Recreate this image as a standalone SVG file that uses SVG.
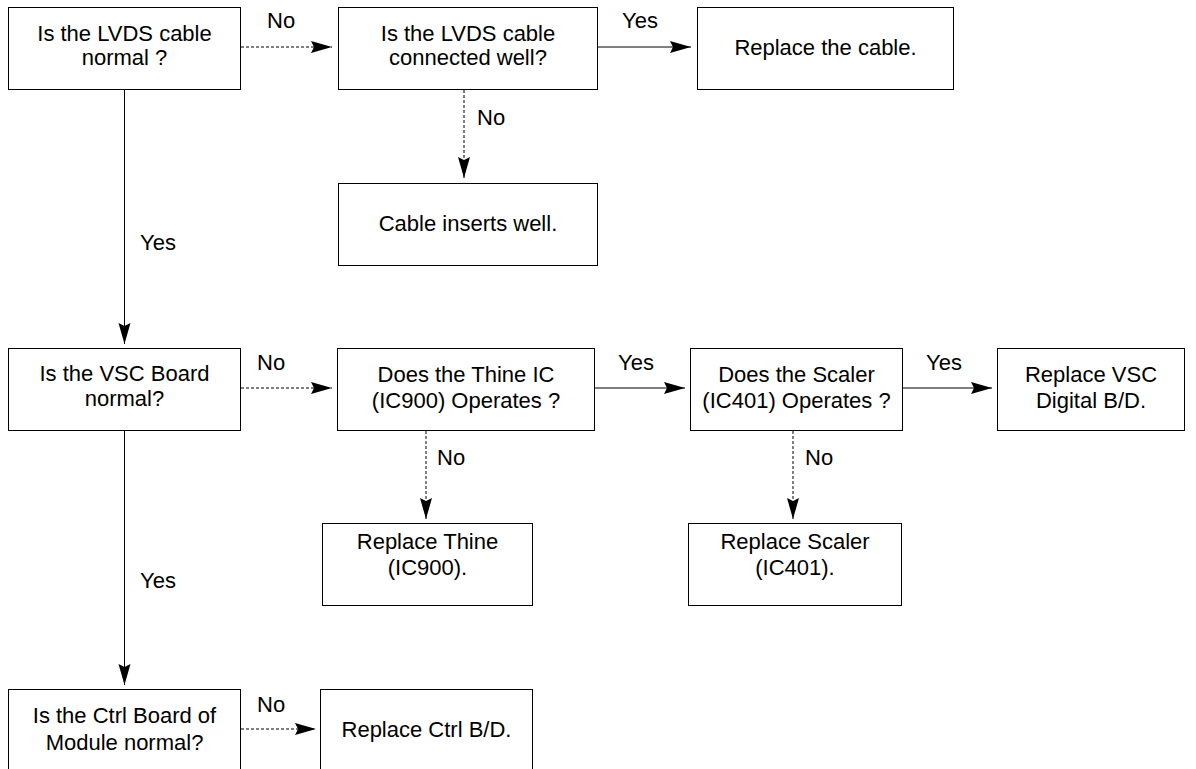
<svg xmlns="http://www.w3.org/2000/svg" width="1196" height="769" viewBox="0 0 1196 769">
<style>
.box{fill:#fff;stroke:#000;stroke-width:1}
.t{font-family:"Liberation Sans",Arial,sans-serif;font-size:22px;fill:#000;text-anchor:middle}
.l{font-family:"Liberation Sans",Arial,sans-serif;font-size:22px;fill:#000}
.solid{stroke:#000;stroke-width:1;fill:none;marker-end:url(#ah)}
.dash{stroke:#000;stroke-width:1;fill:none;stroke-dasharray:3,2;marker-end:url(#ah)}
</style>
<defs>
<marker id="ah" markerUnits="userSpaceOnUse" markerWidth="22" markerHeight="14" refX="21" refY="7" orient="auto">
<path d="M0,1 L21,7 L0,13 L3,7 Z" fill="#000"/>
</marker>
</defs>
<rect width="1196" height="769" fill="#fff"/>
<g id="connectors">
<line class="dash" x1="241" y1="47" x2="332" y2="47"/>
<line class="solid" x1="598" y1="47" x2="691" y2="47"/>
<line class="dash" x1="464" y1="90" x2="464" y2="178"/>
<line class="solid" x1="124.5" y1="90" x2="124.5" y2="344"/>
<line class="dash" x1="241" y1="388" x2="332" y2="388"/>
<line class="solid" x1="595" y1="388" x2="685" y2="388"/>
<line class="solid" x1="903" y1="388" x2="992" y2="388"/>
<line class="dash" x1="426" y1="431" x2="426" y2="519"/>
<line class="dash" x1="793" y1="431" x2="793" y2="519"/>
<line class="solid" x1="124.5" y1="431" x2="124.5" y2="685"/>
<line class="dash" x1="241" y1="729" x2="316" y2="729"/>
<text class="l" x="267" y="28">No</text>
<text class="l" x="622" y="28">Yes</text>
<text class="l" x="477" y="125">No</text>
<text class="l" x="140" y="250">Yes</text>
<text class="l" x="257" y="370">No</text>
<text class="l" x="618" y="370">Yes</text>
<text class="l" x="926" y="370">Yes</text>
<text class="l" x="437" y="465">No</text>
<text class="l" x="805" y="465">No</text>
<text class="l" x="140" y="588">Yes</text>
<text class="l" x="257" y="712">No</text>
</g>
<g id="n1"><rect class="box" x="8.5" y="7.5" width="232" height="82"/><text class="t" x="124.5" y="41">Is the LVDS cable</text><text class="t" x="124.5" y="65">normal ?</text></g>
<g id="n2"><rect class="box" x="338.5" y="7.5" width="259" height="82"/><text class="t" x="468" y="41">Is the LVDS cable</text><text class="t" x="468" y="65">connected well?</text></g>
<g id="n3"><rect class="box" x="697.5" y="7.5" width="256" height="82"/><text class="t" x="825.5" y="55">Replace the cable.</text></g>
<g id="n4"><rect class="box" x="338.5" y="183.5" width="259" height="82"/><text class="t" x="468" y="231">Cable inserts well.</text></g>
<g id="n5"><rect class="box" x="8.5" y="348.5" width="232" height="82"/><text class="t" x="124.5" y="381">Is the VSC Board</text><text class="t" x="124.5" y="406">normal?</text></g>
<g id="n6"><rect class="box" x="337.5" y="348.5" width="257" height="82"/><text class="t" x="466" y="382">Does the Thine IC</text><text class="t" x="466" y="408">(IC900) Operates ?</text></g>
<g id="n7"><rect class="box" x="690.5" y="348.5" width="212" height="82"/><text class="t" x="796.5" y="382">Does the Scaler</text><text class="t" x="796.5" y="408">(IC401) Operates ?</text></g>
<g id="n8"><rect class="box" x="997.5" y="348.5" width="187" height="82"/><text class="t" x="1091" y="382">Replace VSC</text><text class="t" x="1091" y="408">Digital B/D.</text></g>
<g id="n9"><rect class="box" x="322.5" y="523.5" width="210" height="82"/><text class="t" x="427.5" y="549">Replace Thine</text><text class="t" x="427.5" y="575">(IC900).</text></g>
<g id="n10"><rect class="box" x="688.5" y="523.5" width="213" height="82"/><text class="t" x="795" y="549">Replace Scaler</text><text class="t" x="795" y="575">(IC401).</text></g>
<g id="n11"><rect class="box" x="8.5" y="689.5" width="232" height="100"/><text class="t" x="124.5" y="723">Is the Ctrl Board of</text><text class="t" x="124.5" y="750">Module normal?</text></g>
<g id="n12"><rect class="box" x="320.5" y="689.5" width="212" height="100"/><text class="t" x="426.5" y="737">Replace Ctrl B/D.</text></g>
</svg>
